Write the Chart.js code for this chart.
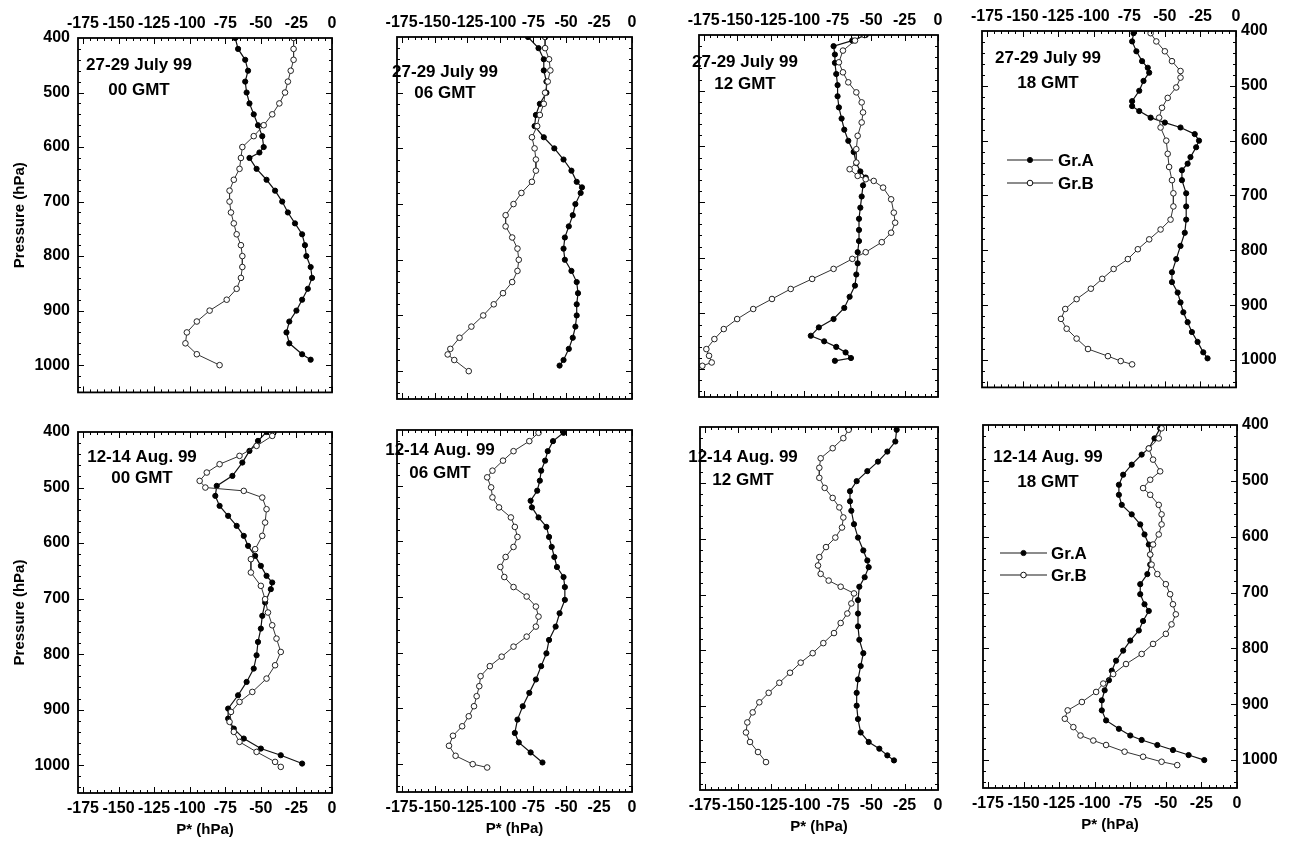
<!DOCTYPE html>
<html>
<head>
<meta charset="utf-8">
<script src="https://cdn.jsdelivr.net/npm/chart.js@4.4.1/dist/chart.umd.min.js"></script>
<style>
html,body{margin:0;padding:0;background:#fff;}
#page{position:relative;width:1293px;height:846px;overflow:hidden;background:#fff;}
#page canvas{position:absolute;}
</style>
</head>
<body>
<div id="page"></div>
<script>
// axis ticks
var xTicks = [-175,-150,-125,-100,-75,-50,-25,0];
var yTicks = [400,500,600,700,800,900,1000];

// 27-29 July 99, 00 GMT
var jul00A_hpa = [400,420,440,460,480,500,520,540,560,580,600,610,620,640,660,680,700,720,740,760,780,800,820,840,860,880,900,920,940,960,980,990];
var jul00A_pstar = [-68,-66,-61,-59,-61,-60,-58,-55,-52,-49,-48,-51,-58,-53,-46,-40,-35,-31,-26,-21,-19,-18,-15,-14,-17,-21,-25,-30,-32,-30,-21,-15];
var jul00B_hpa = [400,420,440,460,480,500,520,540,560,580,600,620,640,660,680,700,720,740,760,780,800,820,840,860,880,900,920,940,960,980,1000];
var jul00B_pstar = [-27,-27,-27,-29,-31,-33,-37,-42,-48,-55,-63,-64,-65,-69,-72,-72,-71,-69,-67,-64,-63,-63,-64,-67,-74,-86,-95,-102,-103,-95,-79];

// 27-29 July 99, 06 GMT
var jul06A_hpa = [400,420,440,460,480,500,520,540,560,580,600,620,640,660,670,680,700,720,740,760,780,800,820,840,860,880,900,920,940,960,980,990];
var jul06A_pstar = [-79,-71,-67,-67,-65,-65,-70,-73,-74,-67,-59,-52,-46,-42,-38,-39,-43,-45,-48,-51,-52,-51,-46,-42,-41,-42,-42,-43,-45,-48,-52,-55];
var jul06B_hpa = [400,420,440,460,480,500,520,540,560,580,600,620,640,660,680,700,720,740,760,780,800,820,840,860,880,900,920,940,960,970,980,1000];
var jul06B_pstar = [-66,-66,-63,-62,-64,-66,-67,-70,-72,-76,-74,-73,-73,-76,-84,-90,-96,-96,-91,-87,-86,-87,-91,-98,-105,-113,-122,-131,-138,-140,-135,-124];

// 27-29 July 99, 12 GMT
var jul12A_hpa = [400,410,420,435,450,470,490,510,530,550,570,590,610,630,645,656,670,690,710,730,750,770,790,810,830,850,870,890,910,925,940,950,960,970,980,985];
var jul12A_pstar = [-54,-64,-78,-77,-77,-76,-75,-75,-74,-72,-70,-67,-63,-61,-58,-54,-56,-57,-58,-59,-59,-59,-60,-60,-61,-62,-66,-70,-78,-89,-95,-85,-76,-69,-65,-77];
var jul12B_hpa = [400,410,428,449,467,485,503,521,539,557,581,605,629,641,653,659,662,674,695,719,737,755,772,790,802,820,838,856,874,892,910,928,946,964,976,988,994];
var jul12B_pstar = [-55,-62,-71,-74,-71,-67,-61,-57,-56,-57,-60,-61,-61,-66,-60,-54,-48,-41,-35,-33,-32,-35,-42,-54,-64,-78,-94,-110,-124,-138,-150,-160,-167,-173,-171,-169,-176];

// 27-29 July 99, 18 GMT
var jul18A_hpa = [404,419,437,455,467,476,491,509,528,537,546,558,567,576,588,600,612,630,642,654,672,696,720,744,768,792,816,840,858,877,895,913,931,949,967,986,997];
var jul18A_pstar = [-72,-73,-70,-66,-62,-61,-65,-68,-73,-73,-68,-60,-50,-39,-29,-26,-28,-32,-34,-38,-38,-35,-35,-35,-36,-39,-42,-45,-45,-41,-39,-37,-34,-31,-27,-23,-20];
var jul18B_hpa = [404,419,437,455,473,485,503,522,540,558,576,600,624,648,672,696,720,744,762,780,798,816,834,852,870,889,907,925,943,961,980,993,1002,1008];
var jul18B_pstar = [-60,-56,-50,-45,-39,-39,-42,-48,-52,-54,-53,-49,-48,-47,-45,-44,-44,-46,-53,-61,-69,-76,-86,-94,-102,-112,-120,-123,-119,-112,-104,-90,-81,-73];

// 12-14 Aug. 99, 00 GMT
var aug00A_hpa = [400,416,434,455,479,497,515,533,551,569,587,605,623,641,659,671,683,707,731,754,778,802,826,850,874,898,916,934,952,970,982,997];
var aug00A_pstar = [-46,-52,-58,-63,-70,-81,-82,-79,-73,-67,-62,-59,-54,-50,-46,-42,-43,-47,-49,-50,-52,-53,-55,-60,-66,-73,-73,-69,-62,-50,-36,-21];
var aug00B_hpa = [400,407,425,443,458,473,488,500,506,518,539,563,587,611,629,653,677,701,725,748,772,796,820,844,868,886,904,922,940,958,976,994,1003];
var aug00B_pstar = [-41,-42,-53,-65,-79,-88,-93,-89,-62,-49,-46,-47,-49,-54,-57,-57,-50,-47,-45,-42,-39,-36,-40,-46,-56,-65,-71,-72,-69,-65,-53,-40,-36];

// 12-14 Aug. 99, 06 GMT
var aug06A_hpa = [405,420,438,455,473,491,509,527,539,557,574,592,610,628,646,664,682,705,729,753,777,801,824,848,872,896,920,944,961,979,997];
var aug06A_pstar = [-52,-60,-64,-66,-69,-70,-72,-77,-76,-71,-65,-63,-61,-59,-57,-52,-51,-51,-55,-58,-63,-65,-69,-73,-78,-83,-87,-89,-86,-77,-68];
var aug06B_hpa = [405,420,438,455,473,485,503,521,539,557,574,592,610,628,646,664,682,699,717,735,753,771,789,807,824,842,860,878,896,914,932,949,967,985,1000,1006];
var aug06B_pstar = [-71,-78,-90,-98,-106,-110,-107,-106,-101,-92,-89,-87,-90,-96,-100,-97,-90,-80,-73,-71,-73,-80,-90,-99,-108,-115,-116,-118,-120,-124,-129,-136,-139,-134,-121,-110];

// 12-14 Aug. 99, 12 GMT
var aug12A_hpa = [405,426,444,462,479,497,515,533,550,574,598,621,639,651,669,686,710,734,757,781,805,828,852,876,899,923,947,964,976,988,997];
var aug12A_pstar = [-31,-32,-38,-45,-53,-61,-66,-66,-65,-63,-60,-56,-53,-52,-55,-59,-60,-60,-60,-59,-56,-58,-60,-61,-61,-60,-58,-52,-44,-38,-33];
var aug12B_hpa = [405,420,438,456,473,491,509,527,544,562,580,598,615,633,648,663,675,686,698,716,734,751,769,787,805,822,840,858,876,893,911,929,947,964,982,1000];
var aug12B_pstar = [-67,-71,-79,-88,-89,-89,-85,-79,-74,-71,-72,-77,-84,-89,-90,-88,-82,-73,-63,-65,-68,-73,-78,-86,-94,-103,-111,-119,-127,-134,-139,-143,-144,-141,-135,-129];

// 12-14 Aug. 99, 18 GMT
var aug18A_hpa = [406,424,442,453,471,489,507,525,543,560,578,596,614,632,650,667,685,703,721,733,751,768,786,804,822,840,857,875,893,911,929,944,956,964,973,982,991,1000];
var aug18A_pstar = [-54,-58,-62,-67,-74,-80,-83,-83,-81,-74,-68,-65,-62,-61,-61,-63,-68,-68,-65,-62,-66,-69,-75,-80,-85,-88,-90,-93,-95,-95,-92,-83,-75,-67,-56,-45,-34,-23];
var aug18B_hpa = [406,424,442,462,483,498,513,525,543,560,578,596,614,632,650,667,685,703,721,739,757,774,792,810,828,846,863,878,896,911,926,941,956,965,973,985,994,1003,1009];
var aug18B_pstar = [-53,-55,-62,-59,-54,-61,-66,-61,-55,-53,-53,-55,-59,-61,-60,-56,-50,-47,-45,-43,-46,-50,-59,-67,-78,-87,-94,-99,-109,-119,-121,-115,-110,-101,-92,-79,-66,-53,-42];

var FONT = '"Liberation Sans", Arial, Helvetica, sans-serif';
Chart.defaults.font.family = FONT;
Chart.defaults.color = '#000';

var pts = function(hpa, val)
{
	return hpa.map(function(h, i){ return {x: val[i], y: h}; });
}

// box = [left, top, right, bottom] of the framed plot area on the page
var panels = [
	{box:[78,38,332,400], row:0, yPos:'left', title:['27-29 July 99','00 GMT'], tx:139, ty:[65,90], a:[jul00A_hpa,jul00A_pstar], b:[jul00B_hpa,jul00B_pstar]},
	{box:[377,37,632,399], row:0, yPos:null, title:['27-29 July 99','06 GMT'], tx:445, ty:[72,93], a:[jul06A_hpa,jul06A_pstar], b:[jul06B_hpa,jul06B_pstar]},
	{box:[679,35,938,397], row:0, yPos:null, title:['27-29 July 99','12 GMT'], tx:745, ty:[62,84], a:[jul12A_hpa,jul12A_pstar], b:[jul12B_hpa,jul12B_pstar]},
	{box:[982,31,1236,392], row:0, yPos:'right', title:['27-29 July 99','18 GMT'], tx:1048, ty:[58,83], a:[jul18A_hpa,jul18A_pstar], b:[jul18B_hpa,jul18B_pstar], legend:{x1:1007, x2:1053, tx:1058, y:[160,183]}},
	{box:[78,432,332,793], row:1, yPos:'left', title:['12-14 Aug. 99','00 GMT'], tx:142, ty:[457,478], a:[aug00A_hpa,aug00A_pstar], b:[aug00B_hpa,aug00B_pstar]},
	{box:[377,430,632,792], row:1, yPos:null, title:['12-14 Aug. 99','06 GMT'], tx:440, ty:[450,473], a:[aug06A_hpa,aug06A_pstar], b:[aug06B_hpa,aug06B_pstar]},
	{box:[680,427,938,790], row:1, yPos:null, title:['12-14 Aug. 99','12 GMT'], tx:743, ty:[457,480], a:[aug12A_hpa,aug12A_pstar], b:[aug12B_hpa,aug12B_pstar]},
	{box:[983,425,1237,788], row:1, yPos:'right', title:['12-14 Aug. 99','18 GMT'], tx:1048, ty:[457,482], a:[aug18A_hpa,aug18A_pstar], b:[aug18B_hpa,aug18B_pstar], legend:{x1:1000, x2:1047, tx:1051, y:[553,575]}}
];

var dot = function(ctx, x, y, filled)
{
	ctx.beginPath();
	ctx.arc(x, y, filled ? 2.6 : 2.8, 0, Math.PI*2);
	ctx.fillStyle = filled ? '#000' : '#fff';
	ctx.fill();
	ctx.lineWidth = 1;
	ctx.strokeStyle = '#111';
	ctx.stroke();
}

// frame with inward ticks, panel labels and legend
var framePlugin = {
	id: 'frame',
	afterDraw: function(chart, args, opts)
	{
		var ctx = chart.ctx, a = chart.chartArea;
		var xs = chart.scales.x, ys = chart.scales.y;
		ctx.save();
		ctx.strokeStyle = '#000';
		ctx.lineWidth = 1;
		ctx.beginPath();
		for (var v = -175; v <= 0; v += 5) {
			var px = Math.round(xs.getPixelForValue(v)) + 0.5;
			var len = (v % 25 === 0) ? 6 : 3;
			ctx.moveTo(px, a.top); ctx.lineTo(px, a.top + len);
			ctx.moveTo(px, a.bottom); ctx.lineTo(px, a.bottom - len);
		}
		for (var p = 420; p <= 1040; p += 20) {
			var py = Math.round(ys.getPixelForValue(p)) + 0.5;
			var l2 = (p % 100 === 0) ? 6 : 3;
			ctx.moveTo(a.left, py); ctx.lineTo(a.left + l2, py);
			ctx.moveTo(a.right, py); ctx.lineTo(a.right - l2, py);
		}
		ctx.stroke();
		ctx.lineWidth = 1.8;
		ctx.strokeRect(a.left, a.top, a.right - a.left, a.bottom - a.top);

		ctx.fillStyle = '#000';
		ctx.font = 'bold 17px ' + FONT;
		ctx.textAlign = 'center';
		ctx.textBaseline = 'middle';
		ctx.fillText(opts.title[0], opts.tx - opts.ox, opts.ty[0] - opts.oy);
		ctx.fillText(opts.title[1], opts.tx - opts.ox, opts.ty[1] - opts.oy);

		if (opts.legend) {
			var lg = opts.legend;
			var names = ['Gr.A', 'Gr.B'];
			ctx.font = 'bold 17px ' + FONT;
			ctx.textAlign = 'left';
			for (var i = 0; i < 2; i++) {
				var y = lg.y[i] - opts.oy;
				ctx.beginPath();
				ctx.moveTo(lg.x1 - opts.ox, y); ctx.lineTo(lg.x2 - opts.ox, y);
				ctx.lineWidth = 1.5; ctx.strokeStyle = '#666';
				ctx.stroke();
				dot(ctx, (lg.x1 + lg.x2) / 2 - opts.ox, y, i === 0);
				ctx.fillStyle = '#000';
				ctx.fillText(names[i], lg.tx - opts.ox, y + 1);
			}
		}
		ctx.restore();
	}
};

var makePanel = function(cfg)
{
	var top = cfg.row === 0;
	var b = cfg.box;
	var ml = cfg.yPos === 'left' ? b[0] : 24;
	var mr = cfg.yPos === 'right' ? 1293 - b[2] : 20;
	var mt = top ? b[1] : 24;
	var mb = top ? 10 : 53;
	var left = b[0] - ml, topPx = b[1] - mt;
	var w = b[2] - b[0] + ml + mr, h = b[3] - b[1] + mt + mb;

	var cv = document.createElement('canvas');
	cv.width = w; cv.height = h;
	cv.style.left = left + 'px'; cv.style.top = topPx + 'px';
	cv.style.width = w + 'px'; cv.style.height = h + 'px';
	document.getElementById('page').appendChild(cv);

	new Chart(cv, {
		type: 'scatter',
		data: {
			datasets: [
				{
					label: 'Gr.B',
					data: pts(cfg.b[0], cfg.b[1]),
					showLine: true,
					borderColor: '#333',
					borderWidth: 1,
					pointRadius: 2.8,
					pointBackgroundColor: '#fff',
					pointBorderColor: '#222',
					pointBorderWidth: 1
				},
				{
					label: 'Gr.A',
					data: pts(cfg.a[0], cfg.a[1]),
					showLine: true,
					borderColor: '#111',
					borderWidth: 1.2,
					pointRadius: 2.6,
					pointBackgroundColor: '#000',
					pointBorderColor: '#000',
					pointBorderWidth: 1
				}
			]
		},
		options: {
			responsive: false,
			animation: false,
			devicePixelRatio: 1,
			layout: {
				padding: {
					left: cfg.yPos === 'left' ? 0 : ml,
					right: cfg.yPos === 'right' ? 0 : mr,
					top: top ? 0 : mt,
					bottom: top ? mb : 0
				}
			},
			scales: {
				x: {
					type: 'linear',
					position: top ? 'top' : 'bottom',
					min: -178.5,
					max: 0,
					afterBuildTicks: function(s){ s.ticks = xTicks.map(function(v){ return {value: v}; }); },
					afterFit: function(s){ s.height = top ? mt : mb; },
					grid: {display: false, drawTicks: false},
					border: {display: false},
					ticks: {
						autoSkip: false, maxRotation: 0, padding: top ? 5 : 6,
						font: {size: 16, weight: 'bold'},
						callback: function(v){ return String(v); }
					},
					title: {display: !top, text: 'P* (hPa)', font: {size: 15, weight: 'bold'}, padding: {top: 0, bottom: 7}}
				},
				y: {
					type: 'linear',
					display: cfg.yPos !== null,
					position: cfg.yPos || 'left',
					reverse: true,
					min: 400,
					max: 1050,
					afterBuildTicks: function(s){ s.ticks = yTicks.map(function(v){ return {value: v}; }); },
					afterFit: function(s){ s.width = cfg.yPos === 'left' ? ml : mr; },
					grid: {display: false, drawTicks: false},
					border: {display: false},
					ticks: {
						autoSkip: false, padding: cfg.yPos === 'left' ? 8 : 5,
						font: {size: 16, weight: 'bold'},
						callback: function(v){ return String(v); }
					},
					title: {display: cfg.yPos === 'left', text: 'Pressure (hPa)', font: {size: 15, weight: 'bold'}, padding: {top: 11, bottom: 0}}
				}
			},
			plugins: {
				legend: {display: false},
				tooltip: {enabled: false},
				frame: {title: cfg.title, tx: cfg.tx, ty: cfg.ty, legend: cfg.legend, ox: left, oy: topPx}
			}
		},
		plugins: [framePlugin]
	});
}

panels.forEach(makePanel);
</script>
</body>
</html>
